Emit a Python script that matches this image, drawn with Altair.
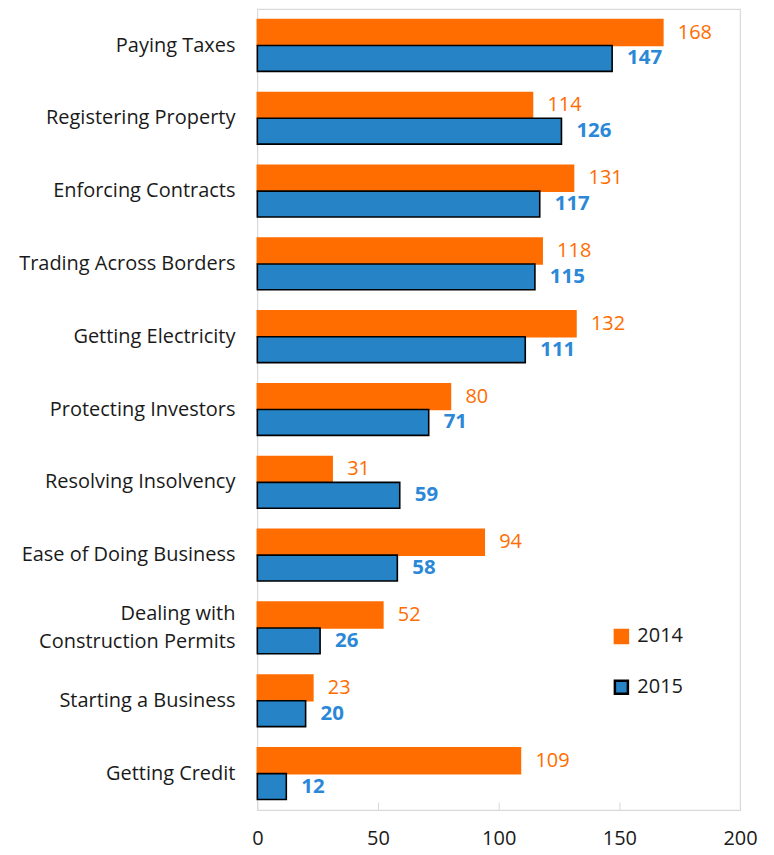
import altair as alt
import pandas as pd

categories = [
    "Paying Taxes",
    "Registering Property",
    "Enforcing Contracts",
    "Trading Across Borders",
    "Getting Electricity",
    "Protecting Investors",
    "Resolving Insolvency",
    "Ease of Doing Business",
    "Dealing with|Construction Permits",
    "Starting a Business",
    "Getting Credit",
]
values_2014 = [168, 114, 131, 118, 132, 80, 31, 94, 52, 23, 109]
values_2015 = [147, 126, 117, 115, 111, 71, 59, 58, 26, 20, 12]
years = ["2014", "2015"]
x_ticks = [0, 50, 100, 150, 200]

rows = []
for c, v in zip(categories, values_2014):
    rows.append({"cat": c, "year": "2014", "value": v})
for c, v in zip(categories, values_2015):
    rows.append({"cat": c, "year": "2015", "value": v})
df = pd.DataFrame(rows)
lab_df = pd.DataFrame({"cat": categories, "multi": ["|" in c for c in categories]})

ORANGE = "#FF6D00"
BLUE = "#2683C6"
BLUE_TXT = "#2B88D8"
FONT = "Open Sans"

y_scale = alt.Scale(paddingInner=0.29, paddingOuter=0.145)

y_enc = alt.Y(
    "cat:N",
    sort=categories,
    title=None,
    scale=y_scale,
    axis=alt.Axis(
        labels=False,
        domain=False,
        ticks=True,
        tickBand="extent",
        tickSize=8,
        tickColor="#d9d9d9",
        offset=-8,
    ),
)
yoff_enc = alt.YOffset("year:N", sort=years, scale=alt.Scale(paddingInner=0, paddingOuter=0))
x_enc = alt.X(
    "value:Q",
    title=None,
    scale=alt.Scale(domain=[0, 200], nice=False),
    axis=alt.Axis(
        values=x_ticks,
        labelFont=FONT,
        labelFontSize=20,
        labelColor="#1a1a1a",
        labelPadding=19,
        labelFlush=False,
        domain=False,
        grid=False,
        ticks=True,
        tickSize=8,
        tickColor="#d9d9d9",
        offset=-8,
    ),
)

base = alt.Chart(df).encode(y=y_enc, yOffset=yoff_enc, x=x_enc)

bars = base.mark_bar(strokeWidth=1.6).encode(
    color=alt.Color(
        "year:N",
        scale=alt.Scale(domain=years, range=[ORANGE, BLUE]),
        title=None,
        legend=alt.Legend(
            orient="none",
            legendX=355,
            legendY=619,
            symbolType="square",
            symbolSize=170,
            symbolStrokeWidth=2.5,
            labelFont=FONT,
            labelFontSize=20,
            labelColor="#1a1a1a",
            labelOffset=6,
            rowPadding=27,
        ),
    ),
    stroke=alt.Stroke(
        "year:N",
        scale=alt.Scale(domain=years, range=[ORANGE, "#000000"]),
        title=None,
    ),
)

txt14 = base.transform_filter(alt.datum.year == "2014").mark_text(
    align="left", baseline="middle", dx=15, font=FONT, fontSize=20, color=ORANGE
).encode(text="value:Q")

txt15 = base.transform_filter(alt.datum.year == "2015").mark_text(
    align="left", baseline="middle", dx=15, font=FONT, fontSize=20.5, fontWeight="bold", color=BLUE_TXT
).encode(text="value:Q")

lab_base = alt.Chart(lab_df).encode(
    y=alt.Y("cat:N", sort=categories, scale=y_scale, title=None),
    x=alt.value(-22),
    text="cat:N",
)
lab_single = lab_base.transform_filter("!datum.multi").mark_text(
    align="right", baseline="middle", font=FONT, fontSize=20, color="#1a1a1a"
)
lab_multi = lab_base.transform_filter("datum.multi").mark_text(
    align="right", baseline="middle", font=FONT, fontSize=20, color="#1a1a1a",
    lineBreak="|", lineHeight=28, dy=-14,
)

chart = (
    alt.layer(bars, txt14, txt15, lab_single, lab_multi)
    .properties(
        width=484,
        height=803,
        autosize=alt.AutoSizeParams(type="none"),
        padding={"left": 250, "top": 0, "right": 26, "bottom": 42},
    )
    .configure_view(stroke="#d9d9d9", strokeWidth=1.2)
)

chart.save("out.html", embed_options={"renderer": "svg", "actions": False})
